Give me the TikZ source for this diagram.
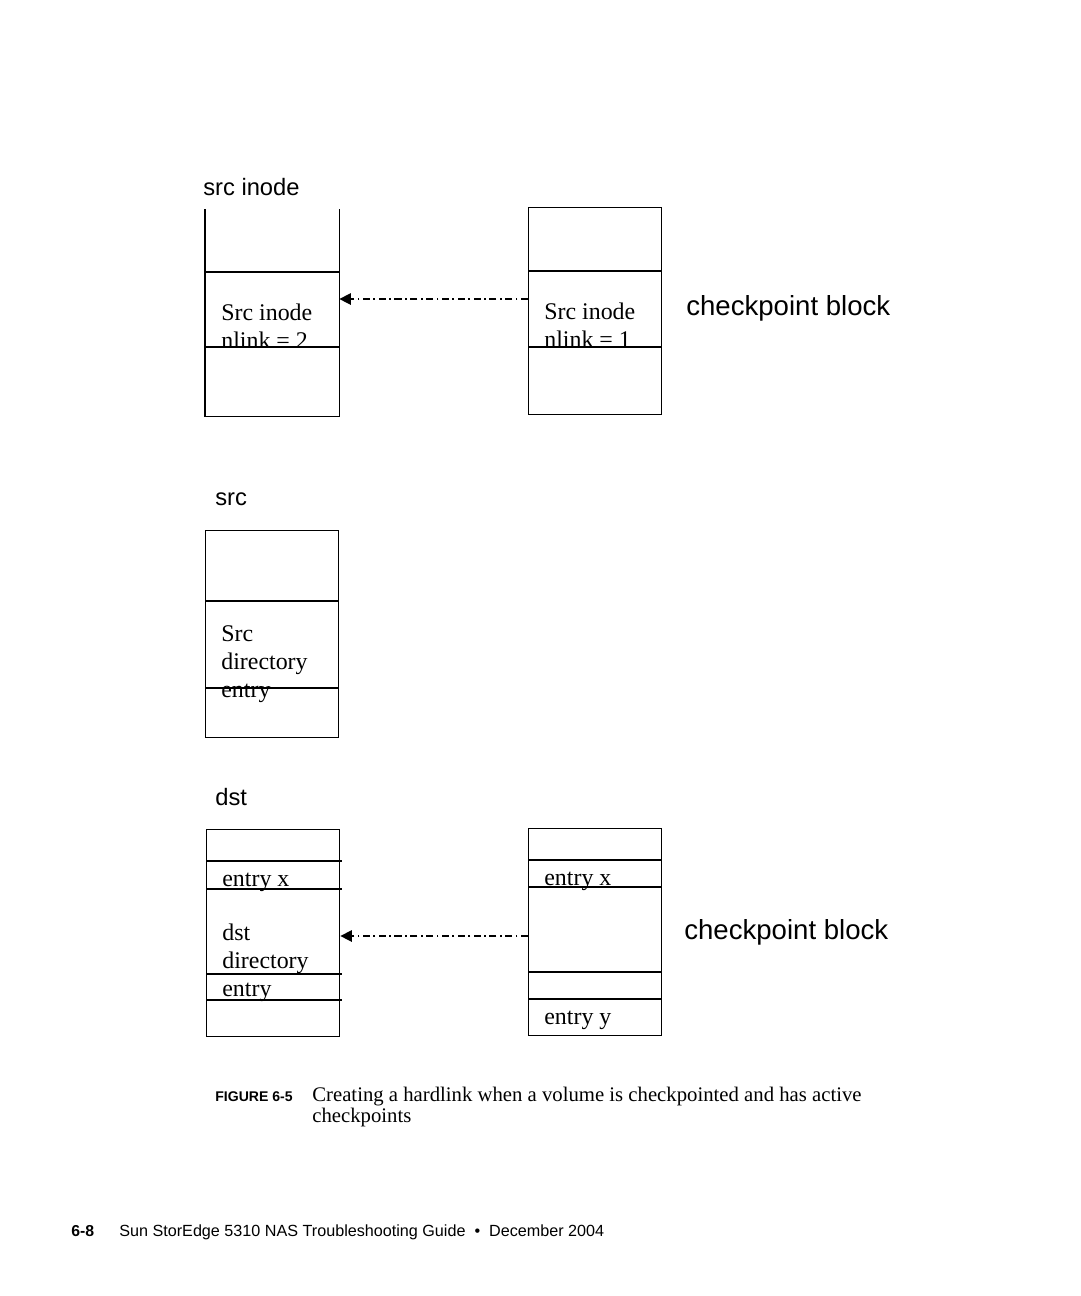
\documentclass[tikz,border=0pt]{standalone}
\usepackage{fontspec}
\setmainfont{Liberation Serif}
\setsansfont{Liberation Sans}
\usetikzlibrary{arrows.meta}

\begin{document}
\begin{tikzpicture}[x=0.02cm, y=-0.02cm,
  every node/.style={inner sep=0pt},
  box/.style={draw, line width=0.8pt, minimum width=2.66cm, anchor=north west},
  divider/.style={line width=0.8pt},
  celltext/.style={font=\fontsize{13.6}{15.9}\selectfont, anchor=base west, align=left},
  title/.style={font=\sffamily\fontsize{13.5}{16}\selectfont, anchor=base west},
  ckptext/.style={font=\sffamily\fontsize{15.7}{18}\selectfont, anchor=base west},
  link/.style={line width=0.8pt, dash pattern=on 4pt off 2pt on 1pt off 2pt,
    -{Triangle[length=6.5pt,width=6.5pt]}}]
  \useasboundingbox (0,0) rectangle (1080,1296);

  % src inode and its checkpoint copy
  \node[title] (srcinodelbl) at (203,195) {src inode};
  \node[box, draw=none, minimum height=4.12cm] (inodeA) at (205,209) {};
  \draw[divider] (inodeA.north west) -- (inodeA.south west) -- (inodeA.south east) -- (inodeA.north east);
  \draw[divider] (inodeA.west |- 0,272) -- (inodeA.east |- 0,272);
  \draw[divider] (inodeA.west |- 0,347) -- (inodeA.east |- 0,347);
  \node[celltext] (inodeAtxt) at (221,348) {Src inode\\nlink = 2};

  \node[box, minimum height=4.14cm] (inodeB) at (528,207) {};
  \draw[divider] (inodeB.west |- 0,271) -- (inodeB.east |- 0,271);
  \draw[divider] (inodeB.west |- 0,347) -- (inodeB.east |- 0,347);
  \node[celltext] (inodeBtxt) at (544,347) {Src inode\\nlink = 1};
  \node[ckptext] (ckpA) at (686,315) {checkpoint block};

  \coordinate (inodeBend) at (inodeB.west |- 0,299);
  \draw[link] (inodeBend) -- (inodeA.east |- inodeBend);

  % src directory
  \node[title] (srclbl) at (215,505) {src};
  \node[box, minimum height=4.14cm] (srcdir) at (205,530) {};
  \draw[divider] (srcdir.west |- 0,601) -- (srcdir.east |- 0,601);
  \draw[divider] (srcdir.west |- 0,688) -- (srcdir.east |- 0,688);
  \node[celltext] (srcdirtxt) at (221,697) {Src\\directory\\entry};

  % dst directory and its checkpoint copy
  \node[title] (dstlbl) at (215,805) {dst};
  \node[box, minimum height=4.14cm] (dstA) at (206,829) {};
  \foreach \yy in {861,889,974,1000}
    \draw[divider] (dstA.west |- 0,\yy) -- ([xshift=0.04cm]dstA.east |- 0,\yy);
  \node[celltext] (dstAx) at (222,886) {entry x};
  \node[celltext] (dstAtxt) at (222,996) {dst\\directory\\entry};

  \node[box, minimum height=4.14cm] (dstB) at (528,828) {};
  \foreach \yy in {860,887,972,999}
    \draw[divider] (dstB.west |- 0,\yy) -- (dstB.east |- 0,\yy);
  \node[celltext] (dstBx) at (544,885) {entry x};
  \node[celltext] (dstBy) at (544,1024) {entry y};
  \node[ckptext] (ckpB) at (684,939) {checkpoint block};

  \coordinate (dstBend) at (dstB.west |- 0,936);
  \draw[link] (dstBend) -- (dstA.east |- dstBend);

  % caption and footer
  \node[anchor=base west, font=\sffamily\bfseries\fontsize{8}{10}\selectfont] (figno) at (215,1101) {FIGURE 6-5};
  \node[anchor=base west, align=left, font=\fontsize{11.8}{11.9}\selectfont] (figcap) at (312,1122)
    {Creating a hardlink when a volume is checkpointed and has active\\checkpoints};
  \node[anchor=base west, font=\sffamily\bfseries\fontsize{9}{11}\selectfont] (pageno) at (71,1236) {6-8};
  \node[anchor=base west, font=\sffamily\fontsize{9.2}{11}\selectfont] (footer) at (119,1236)
    {Sun StorEdge 5310 NAS Troubleshooting Guide \ \textbullet\ \ December 2004};
\end{tikzpicture}
\end{document}
